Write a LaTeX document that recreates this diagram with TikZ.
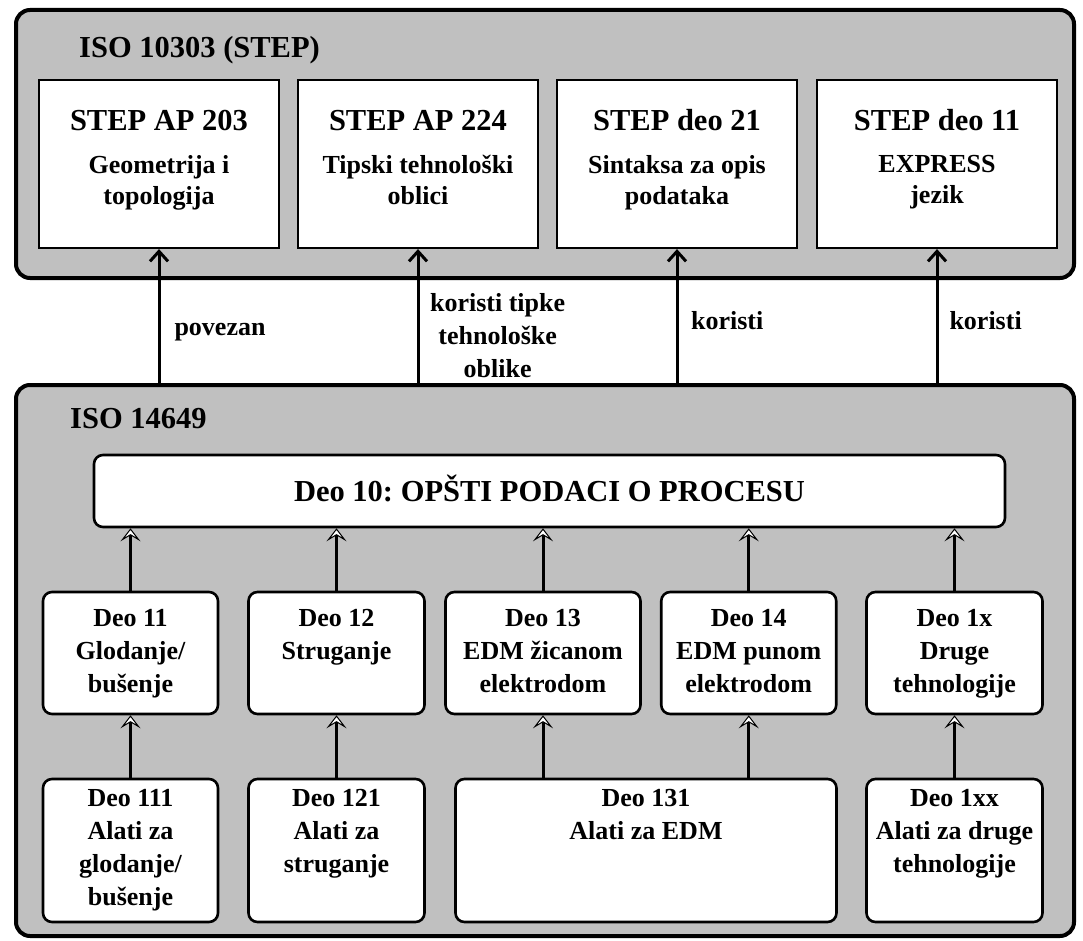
\documentclass[tikz,border=0pt]{standalone}
\usepackage{fontspec}
\setmainfont{Liberation Serif}
\usetikzlibrary{arrows.meta}
\definecolor{panelgray}{RGB}{192,192,192}
\frenchspacing

\begin{document}
\begin{tikzpicture}[x=1pt, y=-1pt,
    panel/.style={draw, line width=4pt, fill=panelgray, rounded corners=14pt, inner sep=0pt},
    stepbox/.style={draw, line width=2.2pt, fill=white, minimum width=240pt, minimum height=168pt, inner sep=0pt},
    partbox/.style={draw, line width=2.6pt, fill=white, rounded corners=9pt, inner sep=0pt},
    bigtxt/.style={font=\bfseries\fontsize{30.5}{36}\selectfont, inner sep=0pt},
    txt/.style={font=\bfseries\fontsize{26}{33}\selectfont, align=center, inner sep=0pt},
    subtxt/.style={font=\bfseries\fontsize{26}{31}\selectfont, align=center, inner sep=0pt},
    uparrow/.style={line width=3pt, -{Straight Barb[length=10pt, width=18pt]}},
    partarrow/.style={line width=3pt, -{Stealth[fill=white, length=13pt, width=20pt, inset=6pt, line width=1pt]}}]
  \useasboundingbox (0,0) rectangle (1083,941);

  % ISO 10303 panel
  \node[panel, minimum width=1058pt, minimum height=268pt] (step) at (545,144) {};
  \node[bigtxt, anchor=base west] (steptitle) at (79,58) {ISO 10303 (STEP)};

  \node[stepbox] (ap203) at (159,164) {};
  \node[stepbox] (ap224) at (418,164) {};
  \node[stepbox] (deo21) at (677,164) {};
  \node[stepbox] (deo11) at (937,164) {};

  \node[bigtxt, anchor=base] (ap203t) at ([yshift=-52pt]ap203.north) {STEP AP 203};
  \node[bigtxt, anchor=base] (ap224t) at ([yshift=-52pt]ap224.north) {STEP AP 224};
  \node[bigtxt, anchor=base] (deo21t) at ([yshift=-52pt]deo21.north) {STEP deo 21};
  \node[bigtxt, anchor=base] (deo11t) at ([yshift=-52pt]deo11.north) {STEP deo 11};
  \node[subtxt, anchor=north] (ap203s) at ([yshift=-76pt]ap203.north) {Geometrija i\\topologija};
  \node[subtxt, anchor=north] (ap224s) at ([yshift=-76pt]ap224.north) {Tipski tehnološki\\oblici};
  \node[subtxt, anchor=north] (deo21s) at ([yshift=-76pt]deo21.north) {Sintaksa za opis\\podataka};
  \node[subtxt, anchor=north] (deo11s) at ([yshift=-76pt]deo11.north) {EXPRESS\\jezik};

  % ISO 14649 panel
  \node[panel, minimum width=1058pt, minimum height=551pt] (nc) at (545,660.5) {};
  \node[bigtxt, anchor=base west] (nctitle) at (70,428) {ISO 14649};

  \node[partbox, minimum width=911pt, minimum height=72pt] (deo10) at (549.5,491) {};
  \node[bigtxt, anchor=base] (deo10t) at (549.5,501) {Deo 10: OPŠTI PODACI O PROCESU};

  \node[partbox, minimum width=175pt, minimum height=122pt] (d11) at (130.5,653) {};
  \node[partbox, minimum width=176pt, minimum height=122pt] (d12) at (336.5,653) {};
  \node[partbox, minimum width=195pt, minimum height=122pt] (d13) at (543,653) {};
  \node[partbox, minimum width=175pt, minimum height=122pt] (d14) at (748.75,653) {};
  \node[partbox, minimum width=176pt, minimum height=122pt] (d1x) at (954.5,653) {};

  \node[partbox, minimum width=175pt, minimum height=143pt] (d111) at (130.5,850.5) {};
  \node[partbox, minimum width=176pt, minimum height=143pt] (d121) at (336.5,850.5) {};
  \node[partbox, minimum width=381pt, minimum height=143pt] (d131) at (646,850.5) {};
  \node[partbox, minimum width=176pt, minimum height=143pt] (d1xx) at (954.5,850.5) {};

  \node[txt, anchor=north] (d11t) at ([yshift=-18.3pt]d11.north) {Deo 11\\Glodanje/\\bušenje};
  \node[txt, anchor=north] (d12t) at ([yshift=-18.3pt]d12.north) {Deo 12\\Struganje};
  \node[txt, anchor=north] (d13t) at ([yshift=-18.3pt]d13.north) {Deo 13\\EDM žicanom\\elektrodom};
  \node[txt, anchor=north] (d14t) at ([yshift=-18.3pt]d14.north) {Deo 14\\EDM punom\\elektrodom};
  \node[txt, anchor=north] (d1xt) at ([yshift=-18.3pt]d1x.north) {Deo 1x\\Druge\\tehnologije};

  \node[txt, anchor=north] (d111t) at ([yshift=-11.8pt]d111.north) {Deo 111\\Alati za\\glodanje/\\bušenje};
  \node[txt, anchor=north] (d121t) at ([yshift=-11.8pt]d121.north) {Deo 121\\Alati za\\struganje};
  \node[txt, anchor=north] (d131t) at ([yshift=-11.8pt]d131.north) {Deo 131\\Alati za EDM};
  \node[txt, anchor=north] (d1xxt) at ([yshift=-11.8pt]d1xx.north) {Deo 1xx\\Alati za druge\\tehnologije};

  % links between the two standards
  \draw[uparrow] (ap203.south |- nc.north) -- node[txt, pos=0.355, anchor=base west, xshift=14pt] (lpov) {povezan} (ap203.south);
  \draw[uparrow] (ap224.south |- nc.north) -- node[txt, pos=0.681, anchor=north west, xshift=10.6pt] (lkor1) {koristi tipke\\tehnološke\\oblike} (ap224.south);
  \draw[uparrow] (deo21.south |- nc.north) -- node[txt, pos=0.40, anchor=base west, xshift=12.6pt] (lkor2) {koristi} (deo21.south);
  \draw[uparrow] (deo11.south |- nc.north) -- node[txt, pos=0.40, anchor=base west, xshift=11pt] (lkor3) {koristi} (deo11.south);

  % parts of ISO 14649
  \foreach \part in {d11,d12,d13,d14,d1x}
    \draw[partarrow] (\part.north) -- (\part.north |- deo10.south);
  \foreach \tool/\part in {d111/d11, d121/d12, d1xx/d1x}
    \draw[partarrow] (\tool.north) -- (\part.south);
  \draw[partarrow] (d13.south |- d131.north) -- (d13.south);
  \draw[partarrow] (d14.south |- d131.north) -- (d14.south);

\end{tikzpicture}
\end{document}
